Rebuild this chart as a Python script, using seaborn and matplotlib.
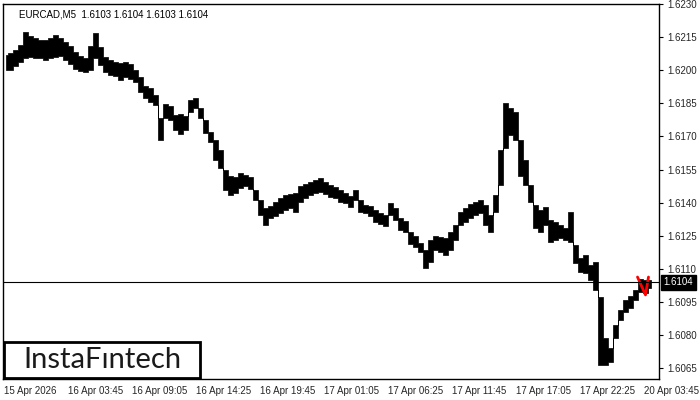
import matplotlib
matplotlib.use('Agg')
import matplotlib.pyplot as plt
import numpy as np
import seaborn as sns
from matplotlib.patches import Rectangle

# EURCAD M5: high / low of the price band, one sample every 5 bars
highs = [1.62069, 1.62078, 1.62092, 1.62114, 1.62173, 1.62155, 1.62146, 1.62137, 1.62137, 1.62146,
         1.62159, 1.62146, 1.62128, 1.62110, 1.62082, 1.62064, 1.62055, 1.62110, 1.62169, 1.62105,
         1.62060, 1.62046, 1.62037, 1.62033, 1.62037, 1.62028, 1.62001, 1.61969, 1.61928, 1.61919,
         1.61888, 1.61783, 1.61847, 1.61838, 1.61797, 1.61802, 1.61793, 1.61865, 1.61874, 1.61829,
         1.61774, 1.61720, 1.61684, 1.61639, 1.61548, 1.61521, 1.61516, 1.61534, 1.61525, 1.61516,
         1.61457, 1.61412, 1.61376, 1.61385, 1.61403, 1.61421, 1.61435, 1.61439, 1.61444, 1.61476,
         1.61485, 1.61494, 1.61503, 1.61512, 1.61494, 1.61480, 1.61471, 1.61457, 1.61444, 1.61430,
         1.61457, 1.61412, 1.61389, 1.61385, 1.61367, 1.61353, 1.61344, 1.61398, 1.61376, 1.61330,
         1.61317, 1.61267, 1.61249, 1.61217, 1.61185, 1.61231, 1.61249, 1.61244, 1.61240, 1.61267,
         1.61299, 1.61358, 1.61376, 1.61394, 1.61403, 1.61412, 1.61389, 1.61344, 1.61435, 1.61639,
         1.61851, 1.61829, 1.61811, 1.61684, 1.61593, 1.61480, 1.61389, 1.61367, 1.61380, 1.61321,
         1.61312, 1.61299, 1.61285, 1.61358, 1.61208, 1.61149, 1.61163, 1.61118, 1.61131, 1.60973,
         1.60787, 1.60742, 1.60846, 1.60914, 1.60959, 1.60977, 1.61005, 1.61054, 1.61050, 1.61050]
lows = [1.62001, 1.62001, 1.62019, 1.62037, 1.62055, 1.62060, 1.62055, 1.62055, 1.62046, 1.62055,
        1.62060, 1.62064, 1.62046, 1.62028, 1.62005, 1.61996, 1.61992, 1.62001, 1.62055, 1.62023,
        1.61992, 1.61978, 1.61974, 1.61956, 1.61969, 1.61960, 1.61947, 1.61901, 1.61874, 1.61856,
        1.61842, 1.61684, 1.61783, 1.61774, 1.61729, 1.61711, 1.61729, 1.61811, 1.61829, 1.61783,
        1.61715, 1.61675, 1.61593, 1.61557, 1.61457, 1.61435, 1.61444, 1.61467, 1.61476, 1.61462,
        1.61412, 1.61344, 1.61299, 1.61330, 1.61339, 1.61353, 1.61367, 1.61376, 1.61358, 1.61403,
        1.61421, 1.61435, 1.61444, 1.61448, 1.61439, 1.61426, 1.61421, 1.61403, 1.61399, 1.61380,
        1.61412, 1.61358, 1.61353, 1.61339, 1.61312, 1.61303, 1.61294, 1.61344, 1.61321, 1.61276,
        1.61267, 1.61212, 1.61199, 1.61176, 1.61104, 1.61131, 1.61185, 1.61176, 1.61163, 1.61185,
        1.61231, 1.61299, 1.61312, 1.61330, 1.61344, 1.61353, 1.61299, 1.61267, 1.61358, 1.61480,
        1.61648, 1.61706, 1.61684, 1.61521, 1.61480, 1.61403, 1.61285, 1.61267, 1.61299, 1.61222,
        1.61231, 1.61240, 1.61231, 1.61222, 1.61127, 1.61086, 1.61081, 1.61050, 1.61005, 1.60665,
        1.60665, 1.60678, 1.60787, 1.60868, 1.60905, 1.60923, 1.60959, 1.60995, 1.60991, 1.61014]

# red pattern drawn over the last bars
pattern_bars = [634, 642, 645]
pattern_prices = [1.61063, 1.60982, 1.61063]

last_price = 1.6104
y_ticks = [1.6065, 1.6080, 1.6095, 1.6110, 1.6125, 1.6140, 1.6155, 1.6170, 1.6185, 1.6200, 1.6215, 1.6230]
x_labels = ['15 Apr 2026', '16 Apr 03:45', '16 Apr 09:05', '16 Apr 14:25', '16 Apr 19:45', '17 Apr 01:05',
            '17 Apr 06:25', '17 Apr 11:45', '17 Apr 17:05', '17 Apr 22:25', '20 Apr 03:45']
bars_per_label = 64
step = 5

sns.set_style('white')
plt.rcParams['font.family'] = ['Liberation Sans', 'DejaVu Sans']

fig = plt.figure(figsize=(7, 4), dpi=100)
ax = fig.add_axes([3 / 700, 21 / 400, 656 / 700, 375 / 400])

bars = np.arange(len(highs)) * step + 2
ax.fill_between(bars, lows, highs, step='mid', color='black', linewidth=0.5, edgecolor='black')
sns.lineplot(x=pattern_bars, y=pattern_prices, color='red', linewidth=2, ax=ax)
ax.axhline(last_price, color='black', linewidth=0.8)

ax.set_xlim(-0.5, 655.5)
ax.set_ylim(1.60601, 1.62300)

for s in ax.spines.values():
    s.set_color('black')
    s.set_linewidth(1)
ax.yaxis.tick_right()
ax.set_yticks(y_ticks)
ax.set_yticklabels([f'{v:.4f}' for v in y_ticks], fontsize=7, ha='left')
ax.set_xticks(np.arange(len(x_labels)) * bars_per_label)
ax.set_xticklabels(x_labels, fontsize=7, ha='left')
ax.tick_params(axis='both', length=3, width=0.8, color='black', pad=2, direction='out')
ax.tick_params(axis='y', pad=3)
ax.set_xlabel('')
ax.set_ylabel('')

# current price badge on the right scale
ax.text(1.007, (last_price - 1.60601) / (1.62300 - 1.60601), f'{last_price:.4f}', transform=ax.transAxes,
        fontsize=7, color='white', va='center', ha='left',
        bbox=dict(boxstyle='square,pad=0.25', facecolor='black', edgecolor='black'))

ax.text(0.024, 0.985, 'EURCAD,M5  1.6103 1.6104 1.6103 1.6104', transform=ax.transAxes,
        fontsize=7, color='black', va='top', ha='left')

# logo box
fig.patches.append(Rectangle((4 / 700, 22 / 400), 196 / 700, 36 / 400, transform=fig.transFigure,
                             facecolor='white', edgecolor='black', linewidth=2, zorder=5))
fig.text(102 / 700, 40 / 400, 'InstaFıntech', fontsize=21, family='Lato', color='#1a1a1a',
         ha='center', va='center', zorder=6)

fig.savefig('out.png', dpi=100)
